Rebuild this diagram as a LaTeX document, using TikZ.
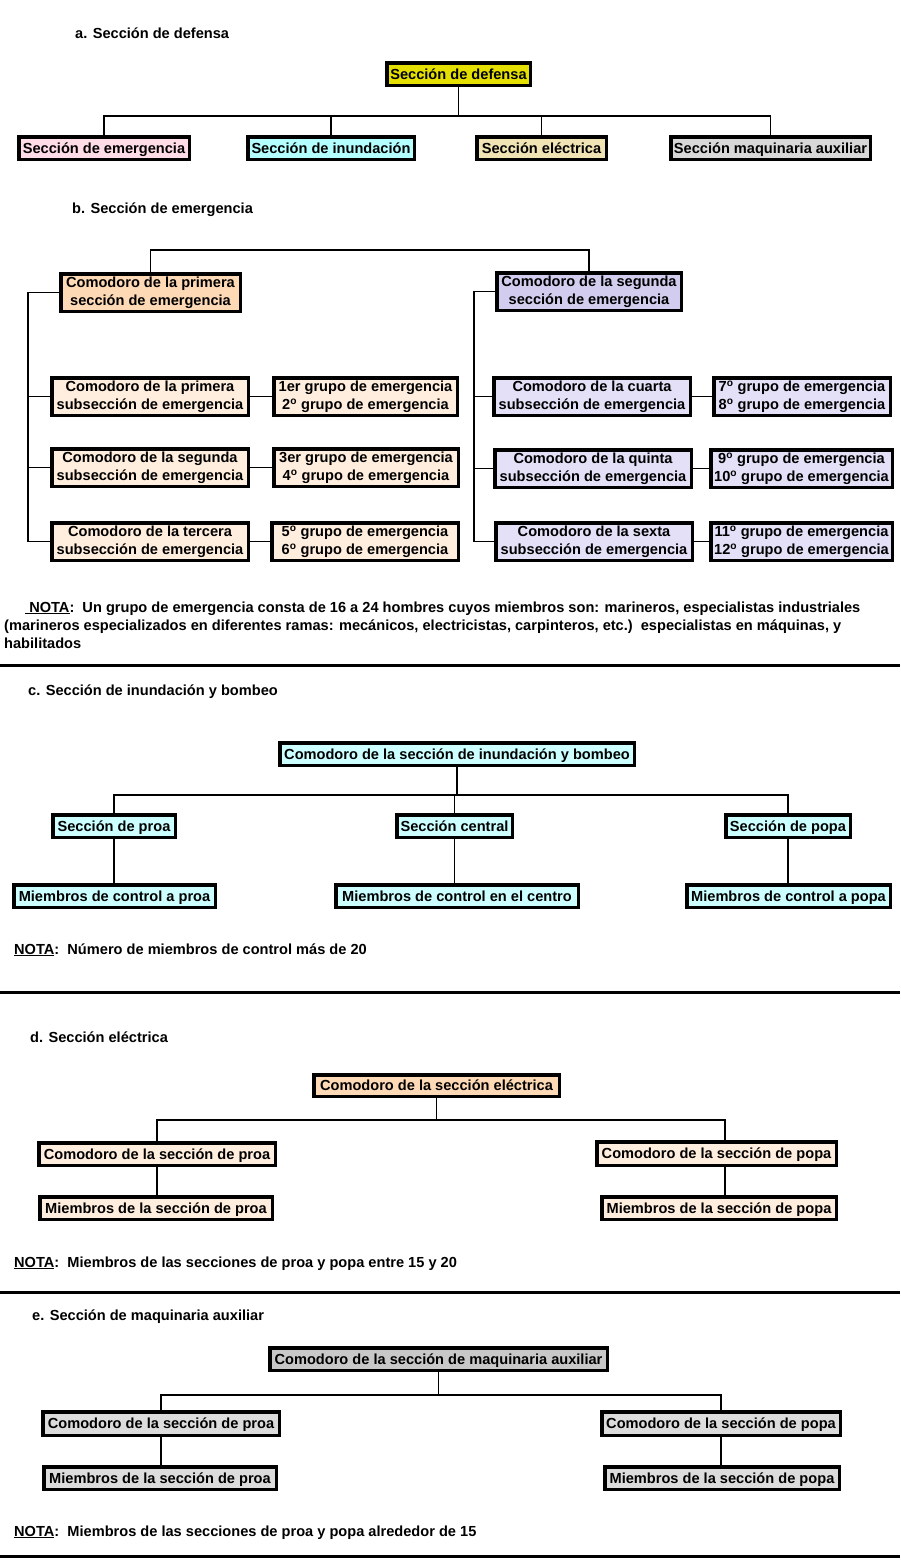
\documentclass[tikz,border=0pt]{standalone}
\usepackage{fontspec}
\setmainfont{Liberation Sans}
\newcommand\mainf{\bfseries\fontsize{14.6}{18}\selectfont}
\definecolor{cYel}{HTML}{E5DF00}
\definecolor{cPink}{HTML}{FFDCE6}
\definecolor{cCyanA}{HTML}{B4FFFF}
\definecolor{cWheat}{HTML}{F0E4B4}
\definecolor{cGrayA}{HTML}{D8D8D8}
\definecolor{cPeachD}{HTML}{FDD9B5}
\definecolor{cPeachL}{HTML}{FFEEDD}
\definecolor{cLavD}{HTML}{D2CCEE}
\definecolor{cLavL}{HTML}{E4E0F7}
\definecolor{cCyanC}{HTML}{CCFFFF}
\definecolor{cGrayD}{HTML}{C8C8C8}
\definecolor{cGrayL}{HTML}{DCDCDC}
\tikzset{
  bx/.style={draw, line width=3.5pt, inner sep=0pt, align=center, font=\mainf},
  one/.style={minimum width=#1, minimum height=22.5pt, text height=10.6pt, text depth=0.6pt},
  two/.style={minimum width=#1, minimum height=37.5pt},
  ln/.style={line width=1.2pt},
  sepline/.style={line width=3pt},
  txt/.style={inner sep=0pt, anchor=base west, font=\mainf},
}
\begin{document}
\begin{tikzpicture}[x=1pt,y=-1pt]
\useasboundingbox (0,0) rectangle (900,1564);
% ---------------- a
\node[txt] (ta) at (75,38) {a. Sección de defensa};
\node[bx, fill=cYel, one=143.5pt] (def) at (458.5,74) {Sección de defensa};
\node[bx, fill=cPink, one=170.5pt] (em) at (104,148) {Sección de emergencia};
\node[bx, fill=cCyanA, one=166.5pt] (inu) at (331,148) {Sección de inundación};
\node[bx, fill=cWheat, one=129.5pt] (ele) at (541.5,148) {Sección eléctrica};
\node[bx, fill=cGrayA, one=199.5pt] (maq) at (770.5,148) {Sección maquinaria auxiliar};
\coordinate (busa) at (0,116);
\draw[ln] (def.south) -- (def.south |- busa);
\draw[ln] (em.north) |- (busa -| maq.north) -- (maq.north);
\draw[ln] (inu.north) -- (inu.north |- busa);
\draw[ln] (ele.north) -- (ele.north |- busa);
% ---------------- b
\node[txt] (tb) at (72,213) {b. Sección de emergencia};
\node[bx, fill=cPeachD, two=179.5pt] (p1) at (150.5,292.5) {Comodoro de la primera\\sección de emergencia};
\node[bx, fill=cLavD, two=184.5pt] (s2) at (589,291.5) {Comodoro de la segunda\\sección de emergencia};
\node[bx, fill=cPeachL, two=196.5pt] (ls1) at (150,396.5) {Comodoro de la primera\\subsección de emergencia};
\node[bx, fill=cPeachL, two=196.5pt] (ls2) at (150,467.5) {Comodoro de la segunda\\subsección de emergencia};
\node[bx, fill=cPeachL, two=196.5pt] (ls3) at (150,541.5) {Comodoro de la tercera\\subsección de emergencia};
\node[bx, fill=cPeachL, two=183.5pt] (lg1) at (365.5,396.5) {1er grupo de emergencia\\2\textsuperscript{o} grupo de emergencia};
\node[bx, fill=cPeachL, two=184.5pt] (lg2) at (366,467.5) {3er grupo de emergencia\\4\textsuperscript{o} grupo de emergencia};
\node[bx, fill=cPeachL, two=186.5pt] (lg3) at (365,541.5) {5\textsuperscript{o} grupo de emergencia\\6\textsuperscript{o} grupo de emergencia};
\node[bx, fill=cLavL, two=196.5pt] (rs1) at (592,396.5) {Comodoro de la cuarta\\subsección de emergencia};
\node[bx, fill=cLavL, two=196.5pt] (rs2) at (593,468.5) {Comodoro de la quinta\\subsección de emergencia};
\node[bx, fill=cLavL, two=196.5pt] (rs3) at (594,541.5) {Comodoro de la sexta\\subsección de emergencia};
\node[bx, fill=cLavL, two=176.5pt] (rg1) at (802,396.5) {7\textsuperscript{o} grupo de emergencia\\8\textsuperscript{o} grupo de emergencia};
\node[bx, fill=cLavL, two=181.5pt] (rg2) at (801.5,468.5) {9\textsuperscript{o} grupo de emergencia\\10\textsuperscript{o} grupo de emergencia};
\node[bx, fill=cLavL, two=181.5pt] (rg3) at (801.5,541.5) {11\textsuperscript{o} grupo de emergencia\\12\textsuperscript{o} grupo de emergencia};
\coordinate (busb) at (0,250);
\coordinate (spL) at (28,0);
\coordinate (spR) at (474,0);
\draw[ln] (p1.north) |- (busb -| s2.north) -- (s2.north);
\draw[ln] (p1.west) -| (spL |- ls3.west) -- (ls3.west);
\draw[ln] (ls1.west -| spL) -- (ls1.west);
\draw[ln] (ls2.west -| spL) -- (ls2.west);
\draw[ln] (s2.west) -| (spR |- rs3.west) -- (rs3.west);
\draw[ln] (rs1.west -| spR) -- (rs1.west);
\draw[ln] (rs2.west -| spR) -- (rs2.west);
\draw[ln] (ls1.east) -- (lg1.west);
\draw[ln] (ls2.east) -- (lg2.west);
\draw[ln] (ls3.east) -- (lg3.west);
\draw[ln] (rs1.east) -- (rg1.west);
\draw[ln] (rs2.east) -- (rg2.west);
\draw[ln] (rs3.east) -- (rg3.west);
\node[txt] (nb1) at (25,612) {\underline{\ NOTA}:\ \ Un grupo de emergencia consta de 16 a 24 hombres cuyos miembros son: marineros, especialistas industriales};
\node[txt] (nb2) at (4,630) {(marineros especializados en diferentes ramas: mecánicos, electricistas, carpinteros, etc.)\ \ especialistas en máquinas, y};
\node[txt] (nb3) at (4,648) {habilitados};
\draw[sepline] (0,665) -- (900,665);
% ---------------- c
\node[txt] (tc) at (28,695) {c. Sección de inundación y bombeo};
\node[bx, fill=cCyanC, one=354.5pt] (ctop) at (457,754) {Comodoro de la sección de inundación y bombeo};
\node[bx, fill=cCyanC, one=122.5pt] (cp) at (114,826) {Sección de proa};
\node[bx, fill=cCyanC, one=115.5pt] (cc) at (454.5,826) {Sección central};
\node[bx, fill=cCyanC, one=124.5pt] (cpp) at (788,826) {Sección de popa};
\node[bx, fill=cCyanC, one=201.5pt] (cm1) at (114.5,896) {Miembros de control a proa};
\node[bx, fill=cCyanC, one=242.5pt] (cm2) at (457,896) {Miembros de control en el centro};
\node[bx, fill=cCyanC, one=203.5pt] (cm3) at (788.5,896) {Miembros de control a popa};
\coordinate (busc) at (0,795);
\draw[ln] (ctop.south) -- (ctop.south |- busc);
\draw[ln] (cp.north) |- (busc -| cpp.north) -- (cpp.north);
\draw[ln] (cc.north) -- (cc.north |- busc);
\draw[ln] (cp.south) -- (cp.south |- cm1.north);
\draw[ln] (cc.south) -- (cc.south |- cm2.north);
\draw[ln] (cpp.south) -- (cpp.south |- cm3.north);
\node[txt] (nc) at (14,954) {\underline{NOTA}:\ \ Número de miembros de control más de 20};
\draw[sepline] (0,992) -- (900,992);
% ---------------- d
\node[txt] (td) at (30,1042) {d. Sección eléctrica};
\node[bx, fill=cPeachD, one=245.5pt, minimum height=21.5pt] (dtop) at (436.5,1085.5) {Comodoro de la sección eléctrica};
\node[bx, fill=cPeachL, one=236.5pt] (dl) at (157,1154) {Comodoro de la sección de proa};
\node[bx, fill=cPeachL, one=239.5pt, minimum height=23.5pt] (dr) at (716.5,1153.5) {Comodoro de la sección de popa};
\node[bx, fill=cPeachL, one=232.5pt] (dml) at (156,1208) {Miembros de la sección de proa};
\node[bx, fill=cPeachL, one=234.5pt] (dmr) at (719,1208) {Miembros de la sección de popa};
\coordinate (busd) at (0,1120);
\coordinate (dxr) at (725,0);
\draw[ln] (dtop.south) -- (dtop.south |- busd);
\draw[ln] (dl.north) |- (busd -| dxr) -- (dr.north -| dxr);
\draw[ln] (dl.south) -- (dl.south |- dml.north);
\draw[ln] (dr.south -| dxr) -- (dmr.north -| dxr);
\node[txt] (nd) at (14,1267) {\underline{NOTA}:\ \ Miembros de las secciones de proa y popa entre 15 y 20};
\draw[sepline] (0,1292) -- (900,1292);
% ---------------- e
\node[txt] (te) at (32,1320) {e. Sección de maquinaria auxiliar};
\node[bx, fill=cGrayD, one=337.5pt] (etop) at (438.5,1359) {Comodoro de la sección de maquinaria auxiliar};
\node[bx, fill=cGrayL, one=236.5pt, minimum height=23.5pt] (el) at (161,1423.5) {Comodoro de la sección de proa};
\node[bx, fill=cGrayL, one=238.5pt, minimum height=23.5pt] (er) at (721,1423.5) {Comodoro de la sección de popa};
\node[bx, fill=cGrayL, one=232.5pt] (eml) at (160,1478) {Miembros de la sección de proa};
\node[bx, fill=cGrayL, one=234.5pt] (emr) at (722,1478) {Miembros de la sección de popa};
\coordinate (buse) at (0,1395);
\draw[ln] (etop.south) -- (etop.south |- buse);
\draw[ln] (el.north) |- (buse -| er.north) -- (er.north);
\draw[ln] (el.south) -- (el.south |- eml.north);
\draw[ln] (er.south) -- (er.south |- emr.north);
\node[txt] (ne) at (14,1536) {\underline{NOTA}:\ \ Miembros de las secciones de proa y popa alrededor de 15};
\draw[sepline] (0,1556) -- (900,1556);
\end{tikzpicture}
\end{document}
